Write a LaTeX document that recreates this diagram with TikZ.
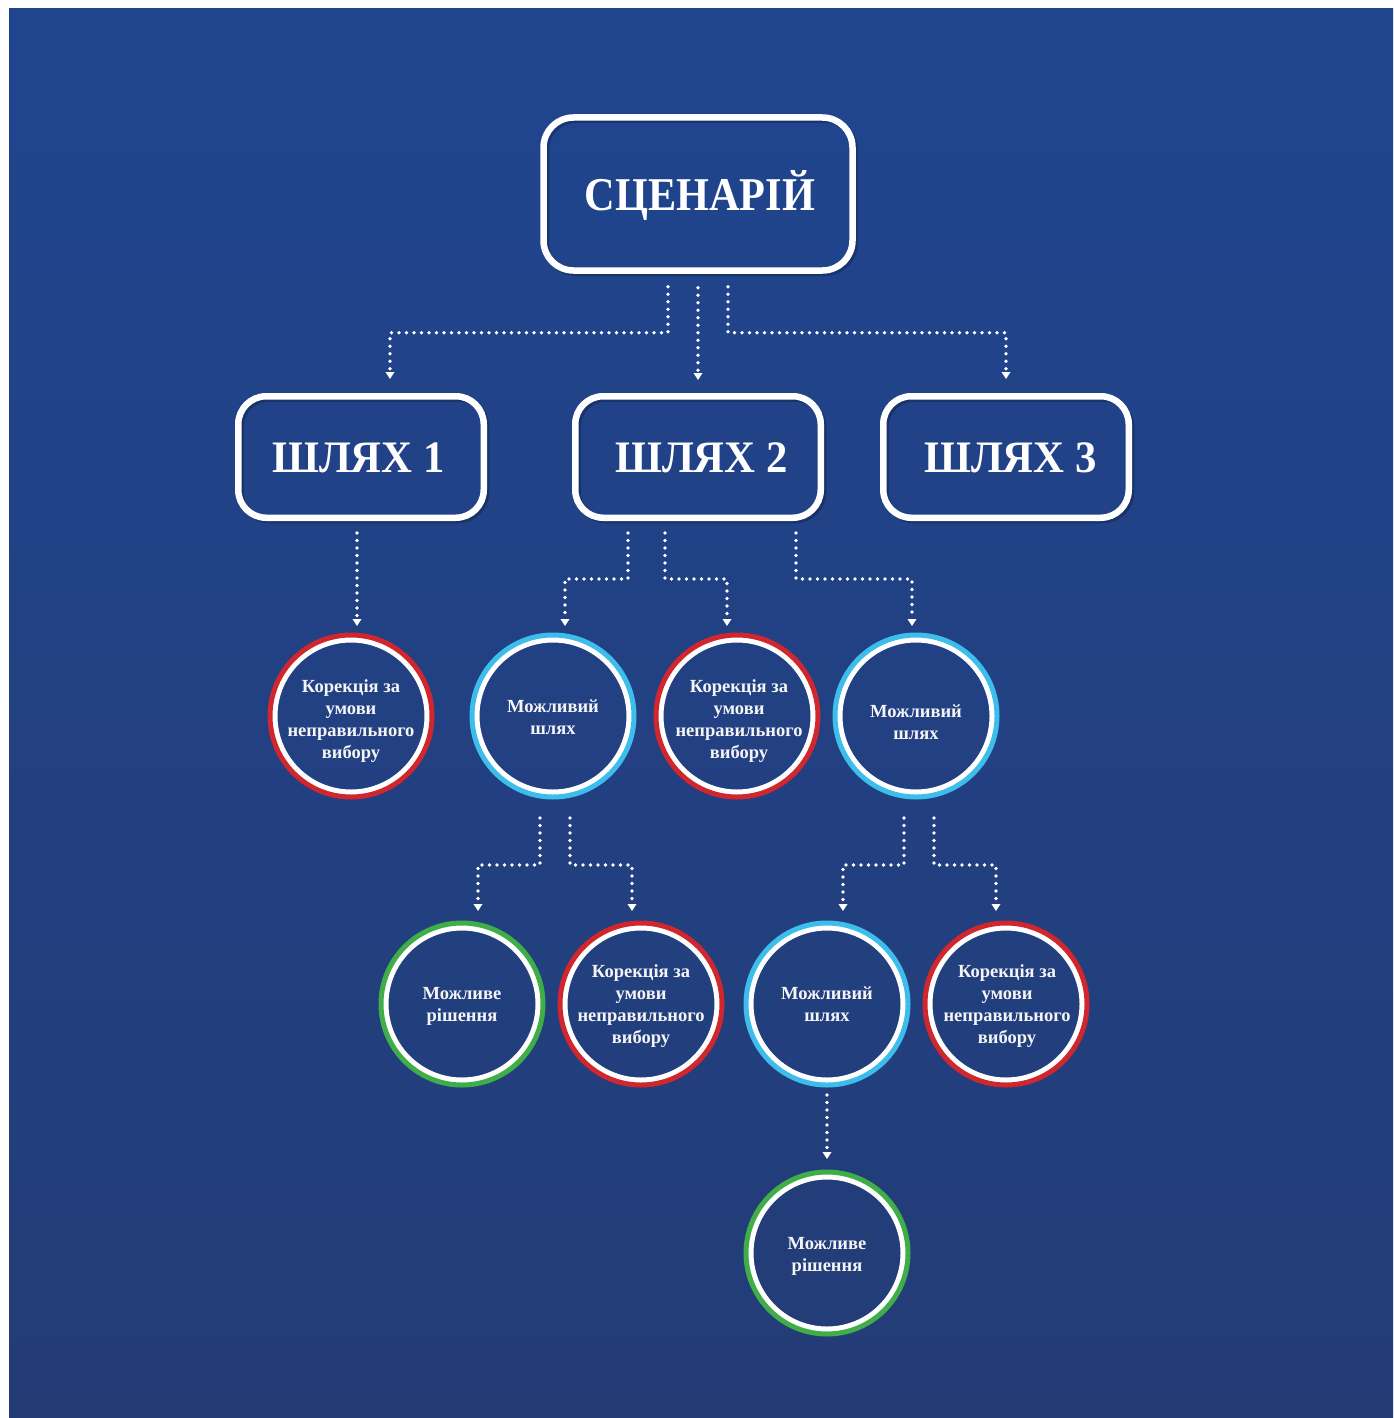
\documentclass[tikz,border=0pt]{standalone}
\usepackage{fontspec}
\setmainfont{Liberation Serif}
\newfontfamily\headfont[FakeStretch=0.95]{Liberation Serif}
\newfontfamily\scenfont[FakeStretch=0.9]{Liberation Serif}
\usetikzlibrary{arrows.meta,shadows}
\definecolor{bgtop}{RGB}{32,69,143}
\definecolor{bgbot}{RGB}{35,60,118}
\definecolor{ringred}{RGB}{208,38,45}
\definecolor{ringcyan}{RGB}{61,189,235}
\definecolor{ringgreen}{RGB}{63,174,73}
\definecolor{txt}{RGB}{245,245,248}
\begin{document}
\begin{tikzpicture}[x=1pt,y=-1pt,
  box/.style={draw=white, line width=6.5pt, rounded corners=28pt,
    minimum width=245.5pt, minimum height=121.5pt, inner sep=0pt,
    text=white, font=\headfont\bfseries\fontsize{45}{50}\selectfont,
    text height=30pt, text depth=0pt,
    general shadow={draw=black, fill=none, line width=6pt, opacity=0.22,
      shadow xshift=2.5pt, shadow yshift=-2.5pt}},
  circ/.style={circle, draw=#1, line width=5pt, minimum size=162pt, inner sep=0pt,
    path picture={\draw[white, line width=5.5pt]
      (path picture bounding box.center) circle[radius=76.25pt];}},
  ctext/.style={text=txt, font=\bfseries\fontsize{18.5}{22}\selectfont,
    align=center, inner sep=0pt},
  conn/.style={draw=white, line width=3.7pt, line cap=round,
    dash pattern=on 0pt off 7.5pt,
    -{Triangle[width=8.5pt,length=7pt]}}
]
\useasboundingbox (0,0) rectangle (1393,1418);
\fill[white] (0,0) rectangle (1393,1418);
\shade[top color=bgtop, bottom color=bgbot] (9,9) rectangle (1393,1418);

% top level
\node[box, minimum width=309pt, minimum height=153pt, rounded corners=30pt,
  font=\scenfont\bfseries\fontsize{47}{52}\selectfont, text height=32pt]
  (scen) at (698,194) {\kern4pt СЦЕНАРІЙ};
\node[box] (p1) at (361,457) {ШЛЯХ 1\kern5pt};
\node[box] (p2) at (698,457) {\kern7pt ШЛЯХ 2};
\node[box] (p3) at (1006,457) {\kern9pt ШЛЯХ 3};

% row 1 circles
\node[circ=ringred]   (c1) at (351,716) {};
\node[circ=ringcyan]  (c2) at (553,716) {};
\node[circ=ringred]   (c3) at (737,716) {};
\node[circ=ringcyan]  (c4) at (916,716) {};
% row 2 circles
\node[circ=ringgreen] (d1) at (462,1004) {};
\node[circ=ringred]   (d2) at (641,1004) {};
\node[circ=ringcyan]  (d3) at (827,1004) {};
\node[circ=ringred]   (d4) at (1006,1004) {};
% row 3
\node[circ=ringgreen] (e1) at (827,1253) {};

% circle texts
\node[ctext] (tc1) at (351,721) {Корекція за\\умови\\неправильного\\вибору};
\node[ctext] (tc2) at (553,717) {Можливий\\шлях};
\node[ctext] (tc3) at (739,721) {Корекція за\\умови\\неправильного\\вибору};
\node[ctext] (tc4) at (916,722) {Можливий\\шлях};
\node[ctext] (td1) at (462,1006) {Можливе\\рішення};
\node[ctext] (td2) at (641,1006) {Корекція за\\умови\\неправильного\\вибору};
\node[ctext] (td3) at (827,1004) {Можливий\\шлях};
\node[ctext] (td4) at (1007,1006) {Корекція за\\умови\\неправильного\\вибору};
\node[ctext] (te1) at (827,1256) {Можливе\\рішення};

% connectors from scenario
\draw[conn] ([shift={(-30,13)}]scen.south) -- ++(0,46) -| ([shift={(29,-14)}]p1.north);
\draw[conn] ([shift={(0,14)}]scen.south) -- ([shift={(0,-13)}]p2.north);
\draw[conn] ([shift={(30,13)}]scen.south) -- ++(0,46) -| ([shift={(0,-14)}]p3.north);

% connectors from path 1
\draw[conn] ([shift={(-4,12)}]p1.south) -- ([shift={(-4,-6.5)}]p1.south |- c1.north);

% connectors from path 2
\draw[conn] ([shift={(-70,12)}]p2.south) -- ++(0,46) -| ([shift={(12,-6.5)}]c2.north);
\draw[conn] ([shift={(-33,12)}]p2.south) -- ++(0,46) -| ([shift={(-10,-6.5)}]c3.north);
\draw[conn] ([shift={(98,12)}]p2.south) -- ++(0,46) -| ([shift={(-4,-6.5)}]c4.north);

% connectors from c2
\draw[conn] ([shift={(-13,18.5)}]c2.south) -- ++(0,47) -| ([shift={(16,-9.5)}]d1.north);
\draw[conn] ([shift={(17,18.5)}]c2.south) -- ++(0,47) -| ([shift={(-9,-9.5)}]d2.north);

% connectors from c4
\draw[conn] ([shift={(-12,18.5)}]c4.south) -- ++(0,47) -| ([shift={(16,-9.5)}]d3.north);
\draw[conn] ([shift={(18,18.5)}]c4.south) -- ++(0,47) -| ([shift={(-10,-9.5)}]d4.north);

% connector from d3
\draw[conn] ([shift={(0,7.5)}]d3.south) -- ([shift={(0,-10.5)}]e1.north);
\end{tikzpicture}
\end{document}
